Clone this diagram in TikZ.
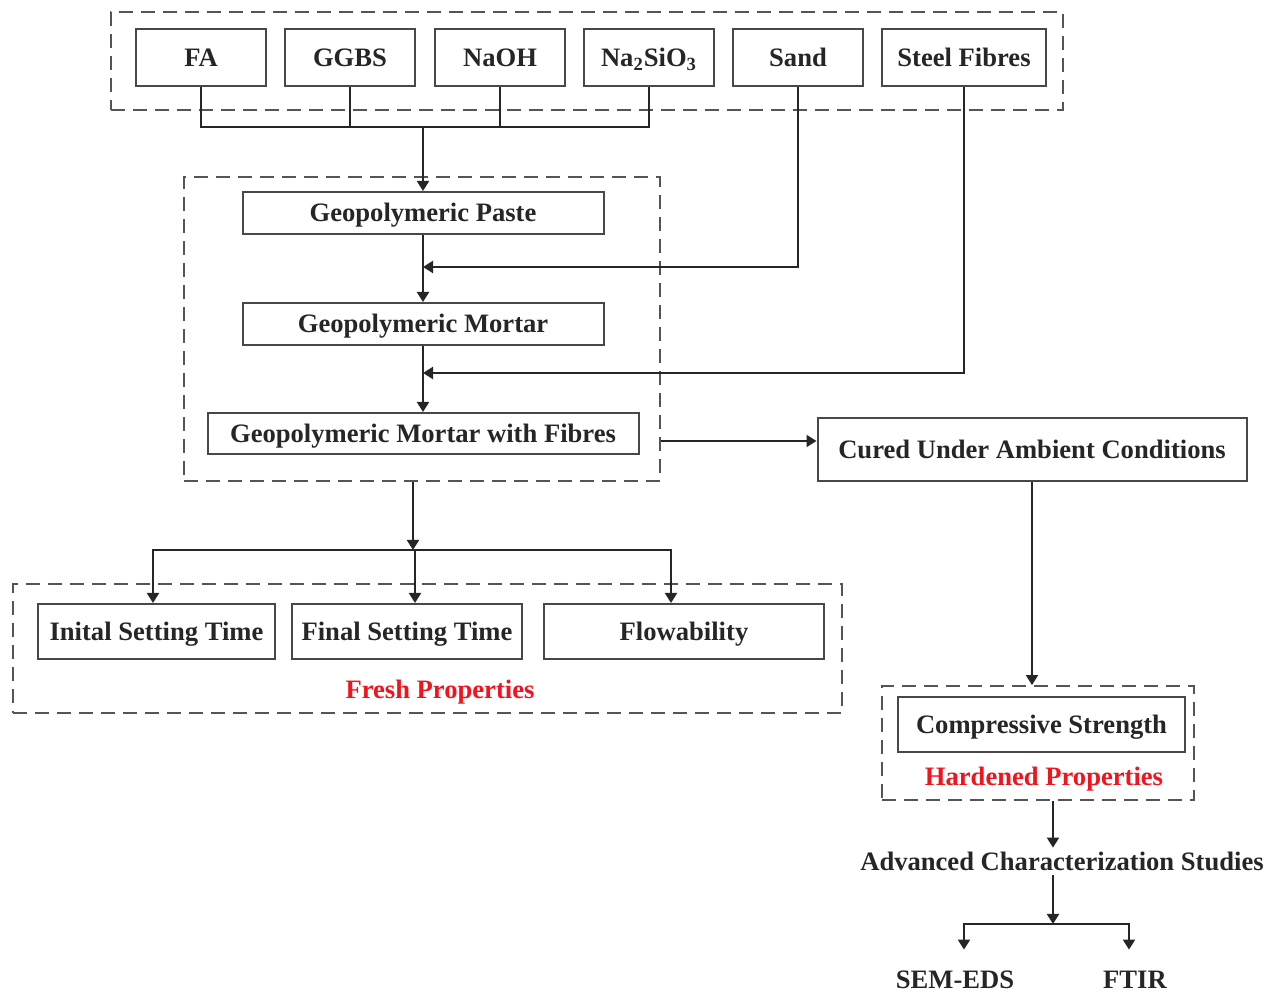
\documentclass[tikz,border=0pt]{standalone}
\usepackage{fontspec}
\setmainfont{Liberation Serif}
\usetikzlibrary{arrows.meta,positioning}
\definecolor{FlowInk}{HTML}{262626}
\definecolor{FlowFrame}{HTML}{484848}
\definecolor{FlowDash}{HTML}{555555}
\definecolor{FlowRed}{HTML}{F0141E}
\tikzset{
  flow/text/.style={font=\fontsize{13.3}{16}\selectfont\bfseries, text=FlowInk,
    text height=9pt, text depth=0pt},
  flow/box/.style={
    flow/text, draw=FlowFrame, line width=1pt, fill=white,
    inner sep=0pt, align=center
  },
  flow/group/.style={
    draw=FlowDash, line width=.9pt, dash pattern=on 7pt off 4pt, inner sep=0pt
  },
  flow/link/.style={line width=1pt, draw=FlowInk},
  flow/arrow/.style={
    flow/link, -{Triangle[length=5pt,width=6pt]}
  },
  flow/label/.style={flow/text, inner sep=0pt},
  flow/title/.style={flow/label, text=FlowRed}
}

\begin{document}
\begin{tikzpicture}[x=.5pt,y=-.5pt]
  \useasboundingbox (0,0) rectangle (1282,994);
  % dashed groups
  \node[flow/group,minimum width=476pt,minimum height=49pt] (rawgrp) at (587,61) {};
  \node[flow/group,minimum width=238pt,minimum height=152pt] (mixgrp) at (422,329) {};
  \node[flow/group,minimum width=414.5pt,minimum height=64.5pt] (freshgrp) at (427.5,648.5) {};
  \node[flow/group,minimum width=156pt,minimum height=57pt] (hardgrp) at (1038,743) {};
  % raw materials
  \foreach \x/\name/\txt in {201/fa/FA,350/ggbs/GGBS,500/naoh/NaOH,
      649/nasio/{Na\textsubscript{2}SiO\textsubscript{3}},798/sand/Sand}
    \node[flow/box,minimum width=65pt,minimum height=28.5pt] (\name) at (\x,57.5) {\txt};
  \node[flow/box,minimum width=82pt,minimum height=28.5pt] (steel) at (964,57.5) {Steel Fibres};
  % mixing stages
  \node[flow/box,minimum width=180.5pt,minimum height=21pt] (paste) at (423,213) {Geopolymeric Paste};
  \node[flow/box,minimum width=180.5pt,minimum height=21pt] (mortar) at (423,324) {Geopolymeric Mortar};
  \node[flow/box,minimum width=215.5pt,minimum height=20.5pt] (fibres) at (423,433.5)
    {Geopolymeric Mortar with Fibres};
  \node[flow/box,minimum width=214.5pt,minimum height=31.5pt] (cured) at (1032,449.5)
    {Cured Under Ambient Conditions};
  % fresh properties
  \node[flow/box,minimum width=118.5pt,minimum height=27.5pt] (initial) at (156.5,631.5) {Inital Setting Time};
  \node[flow/box,minimum width=115pt,minimum height=27.5pt] (final) at (407,631.5) {Final Setting Time};
  \node[flow/box,minimum width=140pt,minimum height=27.5pt] (flowab) at (684,631.5) {Flowability};
  \node[flow/title] (freshlbl) at (440,690) {Fresh Properties};
  % hardened properties
  \node[flow/box,minimum width=143.5pt,minimum height=27.5pt] (comp) at (1041.5,724.5) {Compressive Strength};
  \node[flow/title] (hardlbl) at (1044,777) {Hardened Properties};
  \node[flow/label,minimum height=13.5pt] (acs) at (1062,861.5) {Advanced Characterization Studies};
  \node[flow/label,minimum height=30pt] (sem) at (955,980) {SEM-EDS};
  \node[flow/label,minimum height=30pt] (ftir) at (1135,980) {FTIR};
  % connectors
  \coordinate (rawjoin) at (423,127);
  \coordinate (sandin) at (423,267);
  \coordinate (steelin) at (423,373);
  \draw[flow/link] (fa.south) |- (rawjoin) -| (nasio.south);
  \draw[flow/link] (ggbs.south) -- (ggbs.south |- rawjoin);
  \draw[flow/link] (naoh.south) -- (naoh.south |- rawjoin);
  \draw[flow/arrow] (rawjoin) -- (paste.north);
  \draw[flow/arrow] (paste.south) -- (mortar.north);
  \draw[flow/arrow] (sand.south) |- (sandin);
  \draw[flow/arrow] (mortar.south) -- (fibres.north);
  \draw[flow/arrow] (steel.south) |- (steelin);
  \coordinate (curein) at ([yshift=4.25pt]cured.west);
  \draw[flow/arrow] (mixgrp.east |- curein) -- (curein);
  \draw[flow/arrow] (cured.south) -- (cured.south |- hardgrp.north);
  \coordinate (freshsplit) at (413,550);
  \draw[flow/arrow] (freshsplit |- mixgrp.south) -- (freshsplit);
  \draw[flow/arrow] (freshsplit) -| ([xshift=-1.75pt]initial.north);
  \draw[flow/arrow] (freshsplit) -| ([xshift=4pt]final.north);
  \draw[flow/arrow] (freshsplit) -| ([xshift=-6.5pt]flowab.north);
  \coordinate (hardout) at ([xshift=7.5pt]hardgrp.south);
  \draw[flow/arrow] (hardout) -- (hardout |- acs.north);
  \coordinate (labsplit) at (1053,924);
  \draw[flow/arrow] (labsplit |- acs.south) -- (labsplit);
  \draw[flow/arrow] (labsplit) -| ([xshift=4.5pt]sem.north);
  \draw[flow/arrow] (labsplit) -| ([xshift=-3pt]ftir.north);
\end{tikzpicture}
\end{document}
